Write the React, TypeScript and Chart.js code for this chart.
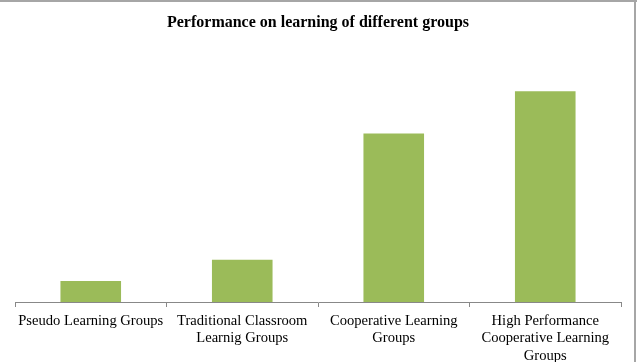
import React, { useEffect, useRef } from "react";
import { Chart, registerables } from "chart.js";

Chart.register(...registerables);

const categories: string[][] = [
  ["Pseudo Learning Groups"],
  ["Traditional Classroom", "Learnig Groups"],
  ["Cooperative Learning", "Groups"],
  ["High Performance", "Cooperative Learning", "Groups"],
];
const performance: number[] = [1, 2, 8, 10];
const chartTitle = "Performance on learning of different groups";

const frame = {
  id: "frame",
  afterDraw(chart: any) {
    const ctx = chart.ctx;
    ctx.save();
    ctx.fillStyle = "#a6a6a6";
    ctx.fillRect(0, 0, 637, 2);
    ctx.fillRect(634, 0, 2, 362);
    ctx.restore();
  },
};

export default function App() {
  const ref = useRef<HTMLCanvasElement>(null);
  useEffect(() => {
    const chart = new Chart(ref.current!, {
      type: "bar",
      data: {
        labels: categories,
        datasets: [
          {
            data: performance,
            backgroundColor: "#9bbb59",
            borderWidth: 0,
            barPercentage: 0.4,
            categoryPercentage: 1,
          },
        ],
      },
      plugins: [frame],
      options: {
        responsive: false,
        animation: false,
        layout: { padding: { left: 15, right: 19, top: 0, bottom: 0 } },
        plugins: {
          legend: { display: false },
          tooltip: { enabled: false },
          title: {
            display: true,
            text: chartTitle,
            color: "#000",
            font: { family: "'Liberation Serif', 'Times New Roman', serif", size: 16, weight: "bold", lineHeight: 1.2 },
            padding: { top: 13, bottom: 17 },
          },
        },
        scales: {
          x: {
            grid: {
              display: true,
              drawOnChartArea: false,
              drawTicks: true,
              tickLength: 5,
              offset: true,
              color: "#888",
            },
            border: { display: true, color: "#888", width: 1 },
            ticks: {
              color: "#000",
              maxRotation: 0,
              autoSkip: false,
              padding: 5,
              font: { family: "'Liberation Serif', 'Times New Roman', serif", size: 14.6, lineHeight: 1.2 },
            },
            afterFit(scale: any) {
              scale.height = 60;
            },
          },
          y: {
            display: false,
            min: 0,
            max: 12,
          },
        },
      },
    });
    return () => chart.destroy();
  }, []);
  return (
    <div style={{ position: "fixed", left: 0, top: 0, width: 640, height: 362, background: "#fff" }}>
      <canvas ref={ref} width={640} height={362} style={{ width: 640, height: 362 }} />
    </div>
  );
}
